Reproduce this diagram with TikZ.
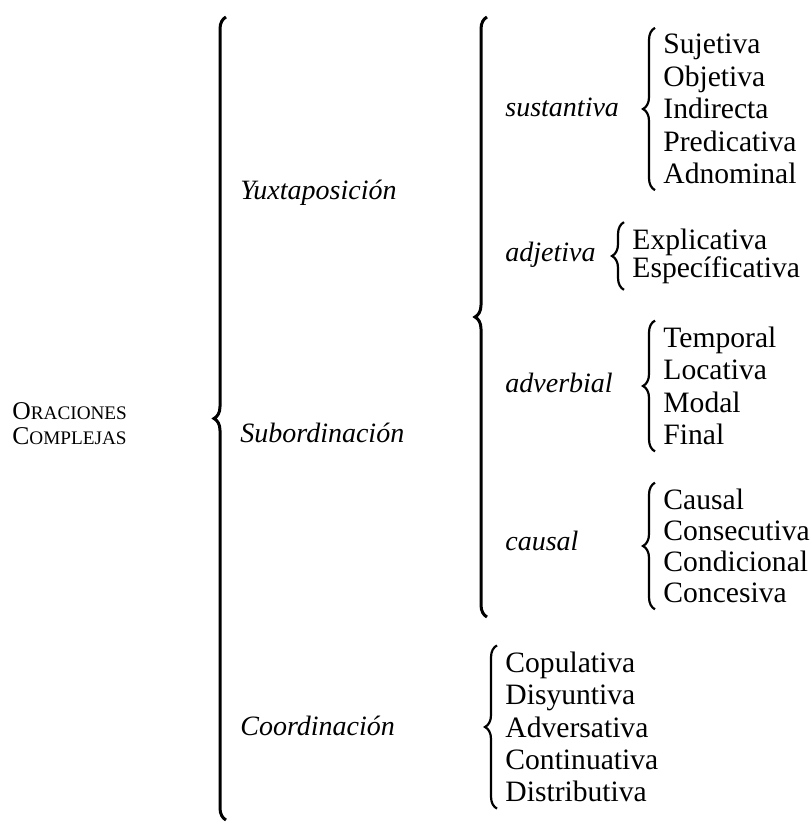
\documentclass[tikz,border=0pt]{standalone}
\usepackage{fontspec}
\setmainfont{Liberation Serif}
\usetikzlibrary{decorations.pathreplacing}

\begin{document}
\begin{tikzpicture}[x=0.5pt,y=-0.5pt,
  curly/.style={decorate,decoration={brace,amplitude=6pt},line width=1.1pt},
  bigcurly/.style={curly,line width=1.5pt},
  kind/.style={anchor=base west,inner sep=0pt,font=\fontsize{14}{16}\selectfont\itshape},
  list/.style={anchor=west,align=left,inner xsep=4pt,inner ysep=3pt,font=\fontsize{14.8}{16.2}\selectfont}]
\useasboundingbox (0,0) rectangle (810,822);
\node [anchor=west,align=left,inner sep=0pt,font=\fontsize{12.8}{12.6}\selectfont] (oc) at (12,424) {O{\fontsize{9.6}{9.6}\selectfont RACIONES}\\C{\fontsize{9.6}{9.6}\selectfont OMPLEJAS}};
\coordinate (oc-top) at (226,17);
\coordinate (oc-bot) at (226,820);
\draw [bigcurly] (oc-bot) -- (oc-top);
\node [kind] (yux) at (240,200) {Yuxtaposición};
\node [kind] (sub) at (240,443) {Subordinación};
\node [kind] (coo) at (240,735) {Coordinación};
\coordinate (sub-top) at (487,17);
\coordinate (sub-bot) at (487,617);
\draw [bigcurly] (sub-bot) -- (sub-top);
\node [kind] (sus) at (505,117) {sustantiva};
\node [kind] (adj) at (505,262) {adjetiva};
\node [kind] (adv) at (505,393) {adverbial};
\node [kind] (cau) at (505,550) {causal};
\node [list] (sus-l) at (655,109) {Sujetiva\\Objetiva\\Indirecta\\Predicativa\\Adnominal};
\node [list,font=\fontsize{14.8}{14}\selectfont] (adj-l) at (624,256) {Explicativa\\Específicativa};
\node [list] (adv-l) at (655,386) {Temporal\\Locativa\\Modal\\Final};
\node [list,font=\fontsize{14.8}{15.5}\selectfont] (cau-l) at (655,546) {Causal\\Consecutiva\\Condicional\\Concesiva};
\node [list] (coo-l) at (497,727) {Copulativa\\Disyuntiva\\Adversativa\\Continuativa\\Distributiva};
\draw [curly] (sus-l.south west) -- (sus-l.north west);
\draw [curly] (adj-l.south west) -- (adj-l.north west);
\draw [curly] (adv-l.south west) -- (adv-l.north west);
\draw [curly] (cau-l.south west) -- (cau-l.north west);
\draw [curly] (coo-l.south west) -- (coo-l.north west);
\end{tikzpicture}
\end{document}
